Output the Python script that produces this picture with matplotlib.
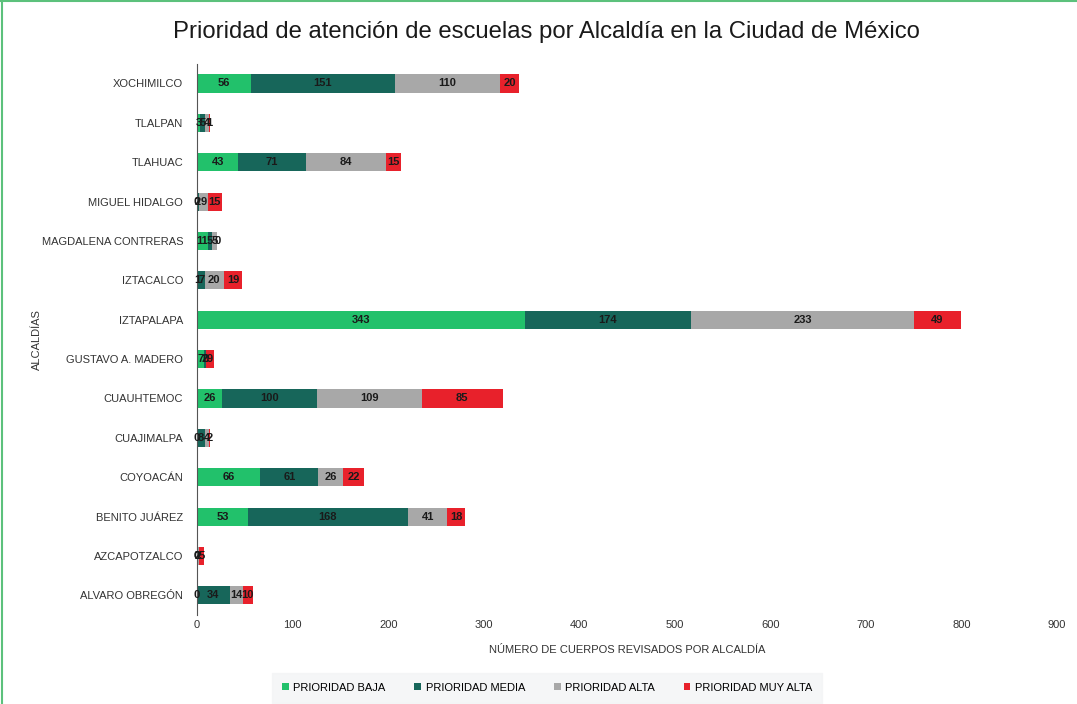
import numpy as np
import matplotlib.pyplot as plt

plt.rcParams['font.family'] = ['Liberation Sans', 'DejaVu Sans']

# Data (bottom to top, as drawn)
alcaldias = ["ALVARO OBREGÓN", "AZCAPOTZALCO", "BENITO JUÁREZ", "COYOACÁN",
             "CUAJIMALPA", "CUAUHTEMOC", "GUSTAVO A. MADERO", "IZTAPALAPA",
             "IZTACALCO", "MAGDALENA CONTRERAS", "MIGUEL HIDALGO", "TLAHUAC",
             "TLALPAN", "XOCHIMILCO"]
baja = [0, 0, 53, 66, 0, 26, 7, 343, 1, 11, 0, 43, 3, 56]
media = [34, 0, 168, 61, 8, 100, 2, 174, 7, 5, 2, 71, 5, 151]
alta = [14, 2, 41, 26, 4, 109, 0, 233, 20, 5, 9, 84, 4, 110]
muy_alta = [10, 5, 18, 22, 2, 85, 9, 49, 19, 0, 15, 15, 1, 20]

series = [
    ("PRIORIDAD BAJA", baja, "#22c16b"),
    ("PRIORIDAD MEDIA", media, "#17665a"),
    ("PRIORIDAD ALTA", alta, "#a8a8a8"),
    ("PRIORIDAD MUY ALTA", muy_alta, "#e8212b"),
]

fig = plt.figure(figsize=(10.77, 7.04), dpi=100)
ax = fig.add_axes([0.183, 0.1264, 0.7985, 0.783])

y = np.arange(len(alcaldias))
left = np.zeros(len(alcaldias))
for name, vals, color in series:
    vals = np.array(vals, dtype=float)
    ax.barh(y, vals, left=left, height=0.46, color=color, label=name)
    for yi, l, v in zip(y, left, vals):
        ax.text(l + v / 2, yi, f"{int(v)}", ha="center", va="center",
                fontsize=8, fontweight="bold", color="#1a1a1a")
    left += vals

ax.set_xlim(0, 900)
ax.set_ylim(-0.5, len(alcaldias) - 0.5)
ax.set_xticks(np.arange(0, 901, 100))
ax.set_yticks(y)
ax.set_yticklabels(alcaldias, fontsize=8, color="#333333")
ax.tick_params(axis="x", labelsize=8, colors="#333333", length=0)
ax.tick_params(axis="y", length=0, pad=10)
for s in ["top", "right", "bottom"]:
    ax.spines[s].set_visible(False)
ax.spines["left"].set_color("#555555")

ax.set_xlabel("NÚMERO DE CUERPOS REVISADOS POR ALCALDÍA", fontsize=8, color="#333333", labelpad=11)
ax.set_ylabel("ALCALDÍAS", fontsize=8, color="#333333", labelpad=0)

fig.text(0.507, 0.955, "Prioridad de atención de escuelas por Alcaldía en la Ciudad de México",
         ha="center", va="center", fontsize=17.2, color="#1a1a1a")

leg = fig.legend(loc="center", bbox_to_anchor=(0.508, 0.023), ncol=4, frameon=True,
                 fontsize=8, handlelength=0.6, handleheight=0.6, columnspacing=2.6,
                 handletextpad=0.4, borderpad=0.6)
leg.get_frame().set_facecolor("#f3f4f5")
leg.get_frame().set_edgecolor("#f3f4f5")
leg.get_frame().set_boxstyle("square")

# green border on left and top of the figure
fig.add_artist(plt.Line2D([0.0015, 0.0015], [0, 0.998], transform=fig.transFigure,
                          color="#5cc17c", lw=1.5))
fig.add_artist(plt.Line2D([0, 1], [0.998, 0.998], transform=fig.transFigure,
                          color="#5cc17c", lw=1.5))

fig.savefig("out.png", dpi=100)
